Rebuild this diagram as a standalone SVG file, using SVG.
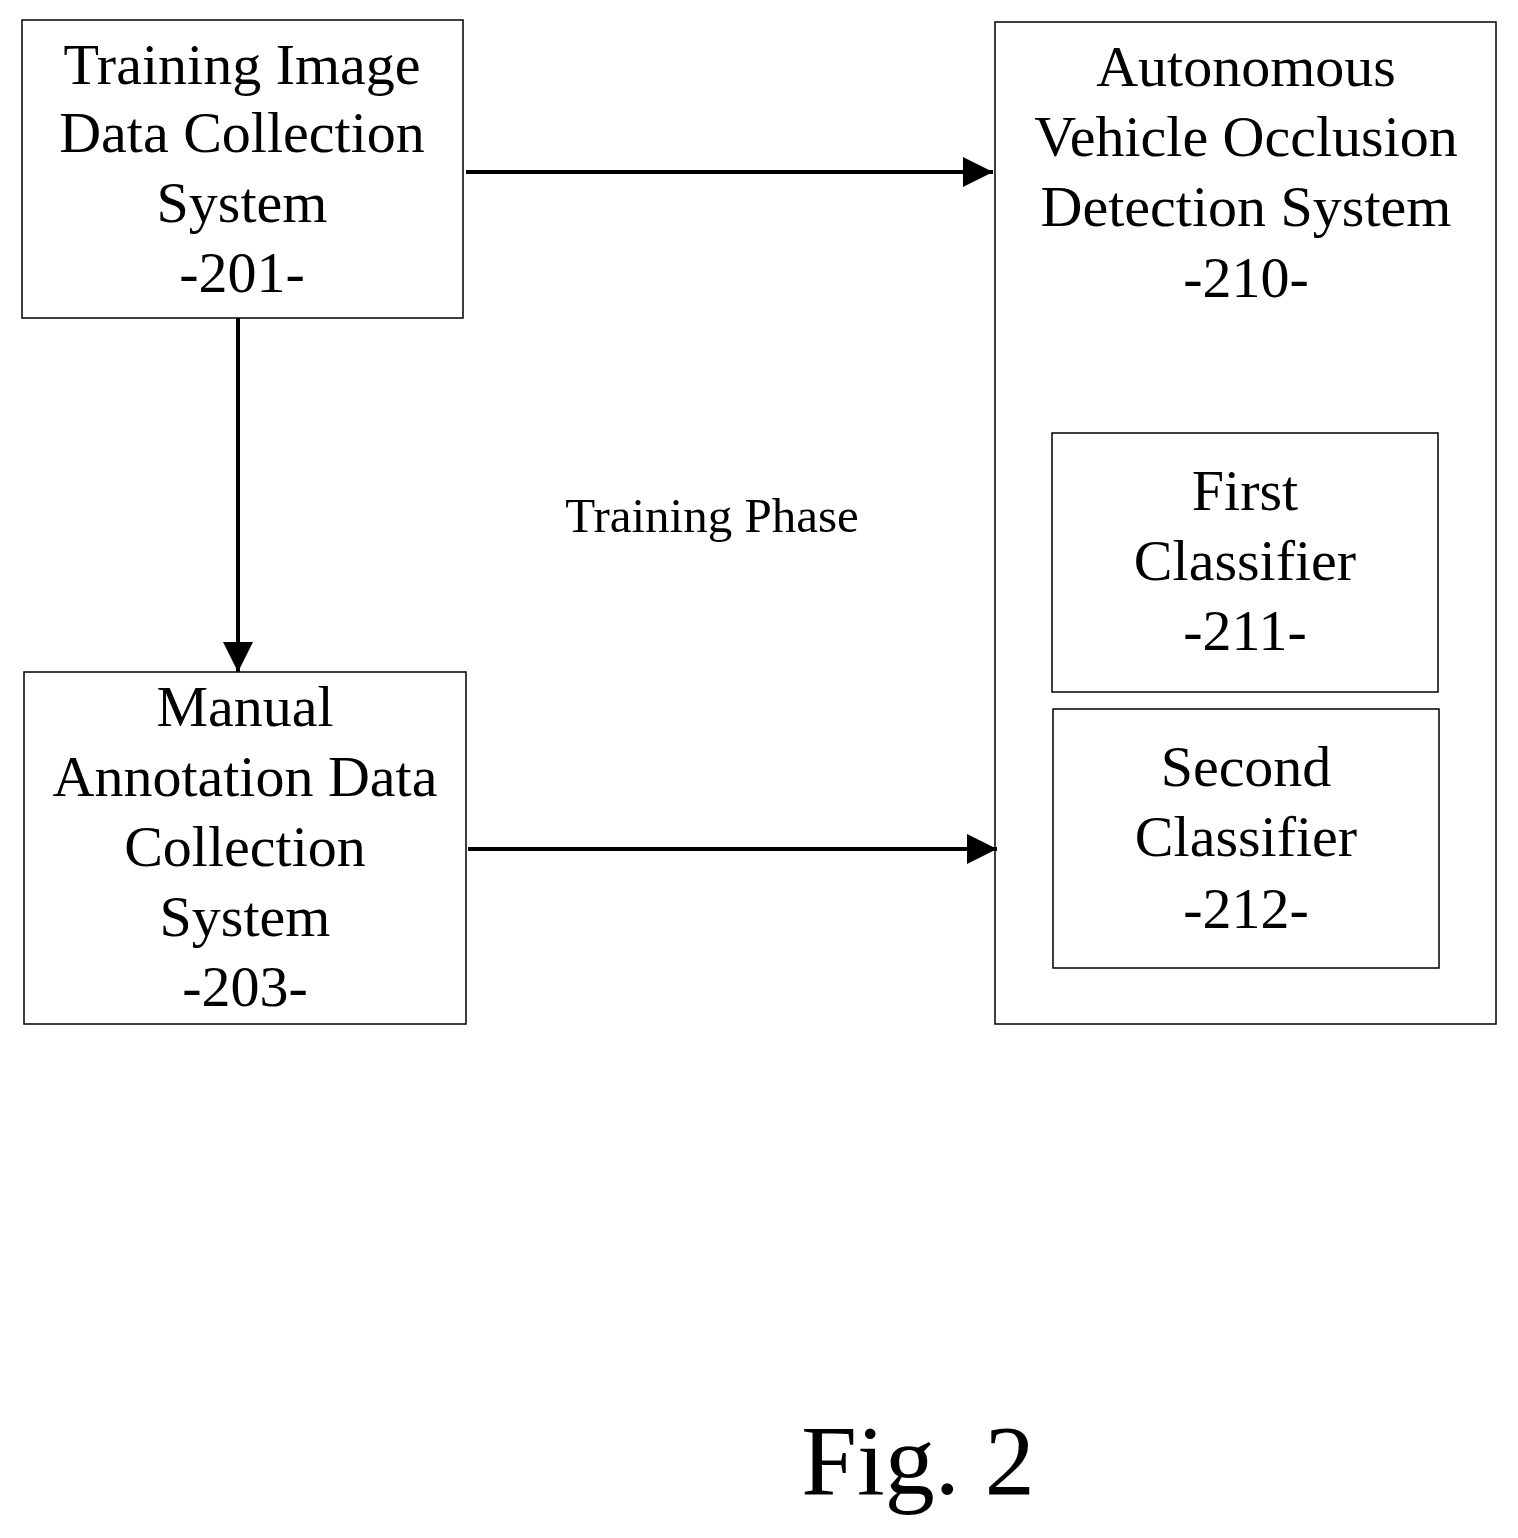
<svg xmlns="http://www.w3.org/2000/svg" width="1518" height="1538" viewBox="0 0 1518 1538">
<style>
rect{fill:#fff;stroke:#000;stroke-width:1.5}
text{font-family:"Liberation Serif","Times New Roman",serif;font-size:58px;text-anchor:middle;fill:#000}
.c{stroke:#000;stroke-width:4;fill:none}
</style>
<defs><marker id="ah" viewBox="0 0 30 30" refX="30" refY="15" markerWidth="30" markerHeight="30" markerUnits="userSpaceOnUse" orient="auto"><path d="M0,0L30,15L0,30z"/></marker></defs>
<rect width="1518" height="1538" style="stroke:none"/>
<g id="n201"><rect x="22" y="20" width="441" height="298"/><text x="242" y="84">Training Image</text><text x="242" y="152">Data Collection</text><text x="242" y="222">System</text><text x="242" y="292">-201-</text></g>
<g id="n203"><rect x="24" y="672" width="442" height="352"/><text x="245" y="726">Manual</text><text x="245" y="796">Annotation Data</text><text x="245" y="866">Collection</text><text x="245" y="936">System</text><text x="245" y="1006">-203-</text></g>
<g id="n210"><rect x="995" y="22" width="501" height="1002"/><text x="1246" y="86">Autonomous</text><text x="1246" y="156">Vehicle Occlusion</text><text x="1246" y="226">Detection System</text><text x="1246" y="297">-210-</text></g>
<g id="n211"><rect x="1052" y="433" width="386" height="259"/><text x="1245" y="510">First</text><text x="1245" y="580">Classifier</text><text x="1245" y="650">-211-</text></g>
<g id="n212"><rect x="1053" y="709" width="386" height="259"/><text x="1246" y="786">Second</text><text x="1246" y="856">Classifier</text><text x="1246" y="928">-212-</text></g>
<text x="712" y="532" style="font-size:49px">Training Phase</text>
<text x="918" y="1494" style="font-size:100px">Fig. 2</text>
<g id="connectors">
<line class="c" x1="466" y1="172" x2="993" y2="172" marker-end="url(#ah)"/>
<line class="c" x1="238" y1="318" x2="238" y2="672" marker-end="url(#ah)"/>
<line class="c" x1="468" y1="849" x2="997" y2="849" marker-end="url(#ah)"/>
</g>
</svg>
